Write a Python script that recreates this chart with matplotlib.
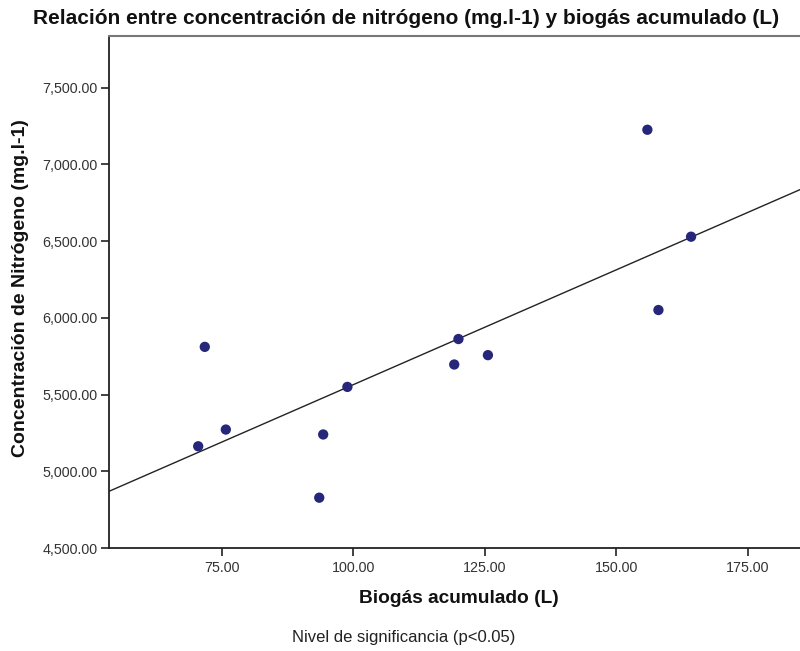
import numpy as np
import matplotlib
matplotlib.use("Agg")
import matplotlib.pyplot as plt
from matplotlib.ticker import FuncFormatter

plt.rcParams['font.family'] = ['Liberation Sans', 'DejaVu Sans']

biogas = [71.8, 70.55, 75.8, 93.55, 94.3, 98.9, 119.2, 120.0, 125.6, 155.9, 158.0, 164.2]
nitrogeno = [5811, 5163, 5272, 4828, 5240, 5550, 5696, 5862, 5757, 7226, 6051, 6529]

title = "Relación entre concentración de nitrógeno (mg.l-1) y biogás acumulado (L)"
xlabel = "Biogás acumulado (L)"
ylabel = "Concentración de Nitrógeno (mg.l-1)"
footnote = "Nivel de significancia (p<0.05)"
xticks = [75, 100, 125, 150, 175]
yticks = [4500, 5000, 5500, 6000, 6500, 7000, 7500]

fig = plt.figure(figsize=(8, 6.51), dpi=100)
ax = fig.add_axes([0.13625, 0.1582, 0.86375, 0.7865])

xlim = (53.6, 184.9)
ylim = (4500, 7837)
ax.set_xlim(*xlim)
ax.set_ylim(*ylim)

slope, intercept = np.polyfit(biogas, nitrogeno, 1)
xs = np.array(xlim)
ax.plot(xs, slope * xs + intercept, color='#222222', lw=1.0, zorder=2)
ax.scatter(biogas, nitrogeno, s=55, color='#26267a', zorder=3, edgecolors='none')

ax.set_xticks(xticks)
ax.set_yticks(yticks)
ax.xaxis.set_major_formatter(FuncFormatter(lambda v, p: f"{v:,.2f}"))
ax.yaxis.set_major_formatter(FuncFormatter(lambda v, p: f"{v:,.2f}"))
ax.tick_params(axis='both', direction='out', length=6, width=1.2, colors='#222222',
               labelcolor='#333333', labelsize=10.3)
ax.tick_params(axis='y', pad=2)
ax.tick_params(axis='x', pad=3)

ax.spines['right'].set_visible(False)
ax.spines['top'].set_color('#777777')
ax.spines['top'].set_linewidth(1.5)
ax.spines['left'].set_linewidth(1.3)
ax.spines['bottom'].set_linewidth(1.3)
ax.spines['left'].set_color('#222222')
ax.spines['bottom'].set_color('#222222')

fig.text(0.508, 0.972, title, ha='center', va='center', fontsize=15, fontweight='bold', color='#111111')
fig.text(0.574, 0.080, xlabel, ha='center', va='center', fontsize=13.8, fontweight='bold', color='#111111')
fig.text(0.026, 0.558, ylabel, ha='center', va='center', rotation=90, fontsize=14, fontweight='bold', color='#111111')
fig.text(0.505, 0.020, footnote, ha='center', va='center', fontsize=12, color='#222222')

fig.savefig('out.png', dpi=100)
